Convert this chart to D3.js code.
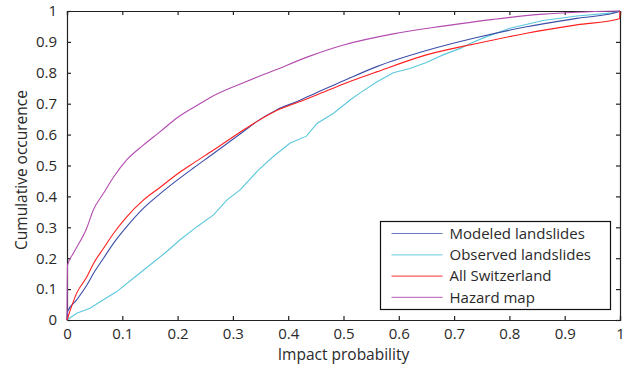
<!DOCTYPE html>
<html>
<head>
<meta charset="utf-8">
<script src="https://cdn.jsdelivr.net/npm/d3@7"></script>
<style>
  body { margin: 0; background: #fff; }
  text { font-family: "Open Sans", sans-serif; fill: #2a2a2a; }
</style>
</head>
<body>
<div id="chart"></div>
<script>
// values: [impact probability, cumulative occurence]
var modeled = [[0,0],[0.001,0.027],[0.0175,0.065],[0.036,0.113],[0.048,0.151],[0.066,0.2],[0.084,0.248],
  [0.108,0.302],[0.138,0.361],[0.168,0.408],[0.204,0.459],[0.228,0.491],[0.265,0.539],
  [0.319,0.61],[0.343,0.642],[0.379,0.68],[0.42,0.71],[0.45,0.735],[0.5,0.774],[0.56,0.82],
  [0.65,0.872],[0.741,0.914],[0.831,0.949],[0.922,0.976],[0.993,0.995],[1,1]];
var observed = [[0,0],[0.0175,0.022],[0.0416,0.038],[0.06,0.059],[0.09,0.092],[0.12,0.135],[0.15,0.178],
  [0.18,0.221],[0.204,0.259],[0.235,0.302],[0.265,0.34],[0.289,0.388],[0.313,0.421],[0.346,0.485],
  [0.373,0.529],[0.403,0.572],[0.433,0.595],[0.452,0.636],[0.482,0.669],[0.512,0.712],[0.53,0.735],
  [0.56,0.77],[0.59,0.8],[0.62,0.814],[0.65,0.833],[0.68,0.858],[0.711,0.879],[0.729,0.895],
  [0.753,0.913],[0.801,0.944],[0.861,0.969],[0.922,0.984],[0.982,0.993],[1,1]];
var allSwitzerland = [[0,0],[0.0175,0.087],[0.036,0.14],[0.048,0.183],[0.066,0.232],[0.084,0.28],
  [0.108,0.334],[0.138,0.388],[0.168,0.429],[0.204,0.478],[0.228,0.507],[0.265,0.55],
  [0.319,0.615],[0.343,0.642],[0.379,0.678],[0.42,0.706],[0.45,0.727],[0.5,0.764],[0.56,0.803],
  [0.65,0.858],[0.741,0.895],[0.831,0.928],[0.922,0.955],[0.999,0.975],[1,1]];
var hazardMap = [[0,0],[0.001,0.178],[0.0115,0.216],[0.0356,0.297],[0.0476,0.356],[0.066,0.41],
  [0.084,0.462],[0.108,0.518],[0.138,0.566],[0.168,0.609],[0.198,0.653],[0.247,0.707],[0.259,0.72],
  [0.319,0.768],[0.379,0.811],[0.439,0.854],[0.5,0.89],[0.59,0.926],[0.68,0.951],[0.771,0.973],
  [0.861,0.99],[0.922,0.996],[1,1]];

var seriesNames = ["Modeled landslides", "Observed landslides", "All Switzerland", "Hazard map"];
var seriesColors = ["#3b4ea8", "#5cc8dc", "#ff1f1f", "#b24cb0"];
var ticks = [0, 0.1, 0.2, 0.3, 0.4, 0.5, 0.6, 0.7, 0.8, 0.9, 1];

var width = 627, height = 368;
var margin = {top: 11, right: 7, bottom: 48, left: 67};
var w = width - margin.left - margin.right,
    h = height - margin.top - margin.bottom;

var svg = d3.select("#chart").append("svg")
  .attr("width", width)
  .attr("height", height);

var g = svg.append("g").attr("transform", "translate(" + margin.left + "," + margin.top + ")");

var x = d3.scaleLinear().domain([0, 1]).range([0, w]);
var y = d3.scaleLinear().domain([0, 1]).range([h, 0]);

var fmt = function(d) { return d === 0 || d === 1 ? String(d) : d3.format(".1f")(d); };

// axes, ticks pointing inward on all four sides
g.append("g").attr("class", "axis").attr("transform", "translate(0," + h + ")")
  .call(d3.axisBottom(x).tickValues(ticks).tickSize(-4).tickPadding(8).tickFormat(fmt));
g.append("g").attr("class", "axis")
  .call(d3.axisLeft(y).tickValues(ticks).tickSize(-4).tickPadding(10).tickFormat(fmt));
g.append("g").attr("class", "axis")
  .call(d3.axisTop(x).tickValues(ticks).tickSize(-4).tickFormat(""));
g.append("g").attr("class", "axis").attr("transform", "translate(" + w + ",0)")
  .call(d3.axisRight(y).tickValues(ticks).tickSize(-4).tickFormat(""));

g.selectAll(".axis path, .axis line").style("stroke", "#222").style("stroke-width", 1.2);
g.selectAll(".axis text").style("font-size", "15px").style("font-family", "'Open Sans', sans-serif").style("fill", "#2a2a2a");

var smooth = d3.line()
  .curve(d3.curveMonotoneX)
  .x(function(d) { return x(d[0]); })
  .y(function(d) { return y(d[1]); });
var rough = d3.line()
  .x(function(d) { return x(d[0]); })
  .y(function(d) { return y(d[1]); });

var data = [modeled, observed, allSwitzerland, hazardMap];
// draw in the order that puts red above blue like the original
[1, 0, 3, 2].forEach(function(i) {
  g.append("path")
    .datum(data[i])
    .attr("d", i === 1 ? rough : smooth)
    .style("fill", "none")
    .style("stroke", seriesColors[i])
    .style("stroke-width", 1.1);
});

// legend
var lg = svg.append("g").attr("transform", "translate(380.5,221.5)");
lg.append("rect").attr("width", 230).attr("height", 88)
  .style("fill", "#fff").style("stroke", "#111").style("stroke-width", 1.2);
seriesNames.forEach(function(name, i) {
  var yy = 12 + i * 21.3;
  lg.append("line").attr("x1", 11).attr("x2", 62).attr("y1", yy).attr("y2", yy)
    .style("stroke", seriesColors[i]).style("stroke-width", 1.2).style("opacity", 0.75);
  lg.append("text").attr("x", 69).attr("y", yy).attr("dy", "0.35em")
    .style("font-size", "15px").text(name);
});

// axis labels
svg.append("text")
  .attr("x", margin.left + w / 2).attr("y", 360)
  .attr("text-anchor", "middle").style("font-size", "15.5px")
  .text("Impact probability");
svg.append("text")
  .attr("transform", "translate(27,170) rotate(-90)")
  .attr("text-anchor", "middle").style("font-size", "15.5px")
  .text("Cumulative occurence");
</script>
</body>
</html>
